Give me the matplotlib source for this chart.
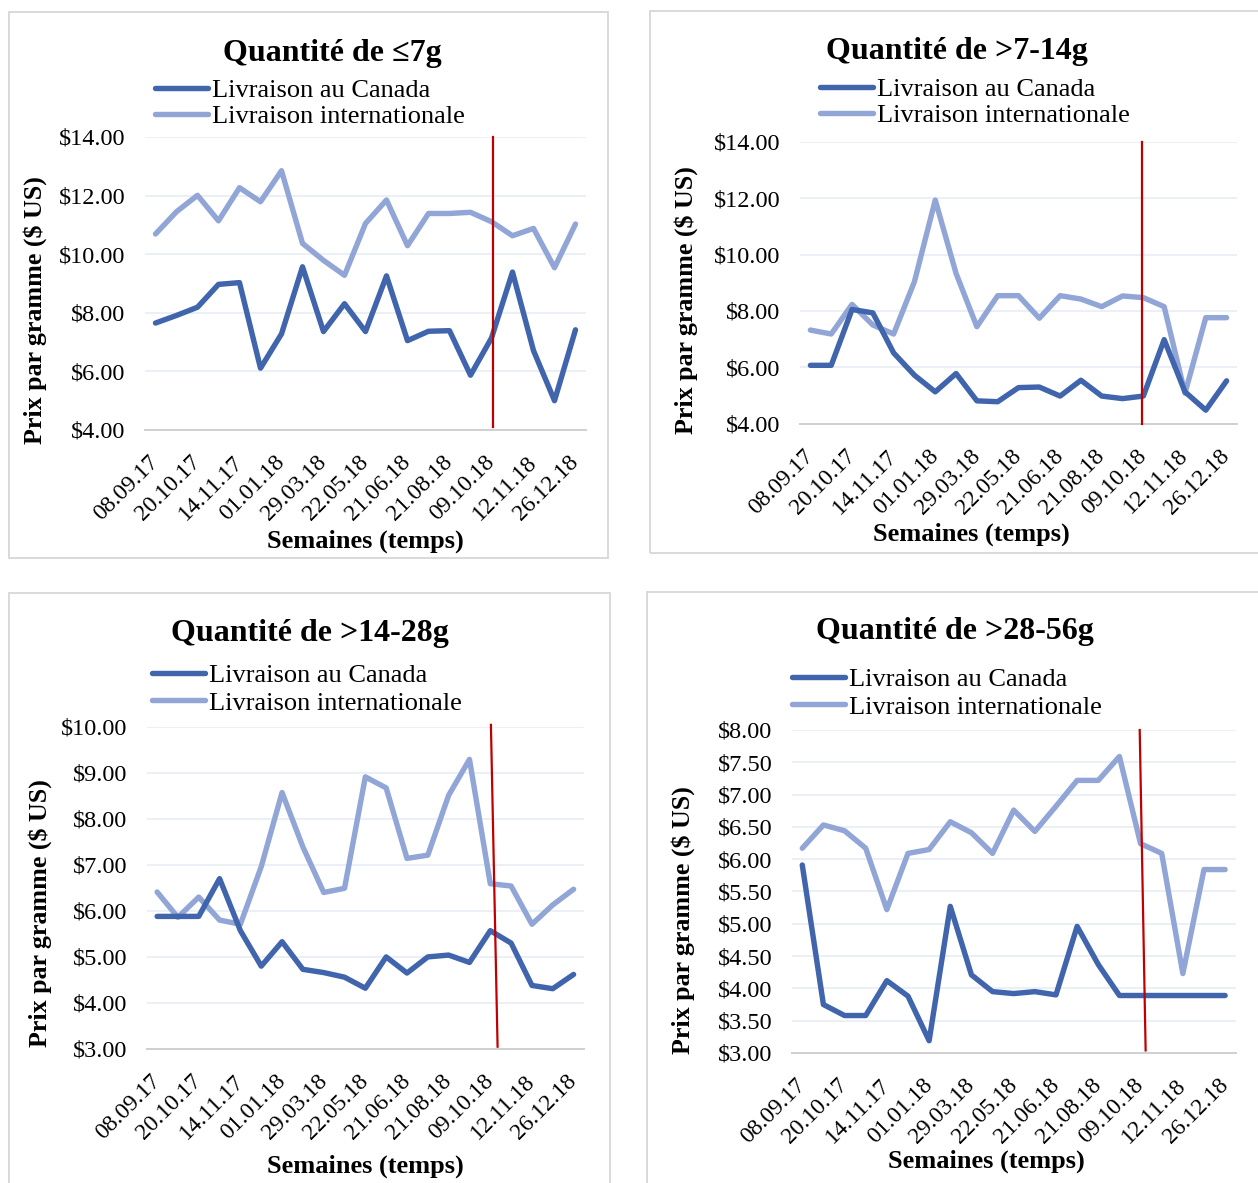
import matplotlib
matplotlib.use("Agg")
import matplotlib.pyplot as plt
from matplotlib.patches import Rectangle

plt.rcParams['font.family'] = ['Liberation Serif', 'DejaVu Serif']

# ---------------- data ----------------
n_weeks = 21
tick_labels = ["08.09.17", "20.10.17", "14.11.17", "01.01.18", "29.03.18", "22.05.18",
               "21.06.18", "21.08.18", "09.10.18", "12.11.18", "26.12.18"]

titles = ["Quantité de ≤7g", "Quantité de >7-14g", "Quantité de >14-28g", "Quantité de >28-56g"]
series_names = ["Livraison au Canada", "Livraison internationale"]

canada_7 = [7.65, 7.91, 8.19, 8.97, 9.03, 6.11, 7.28, 9.57, 7.36, 8.31, 7.36,
            9.26, 7.05, 7.37, 7.39, 5.87, 7.14, 9.39, 6.71, 5.00, 7.42]
intl_7 = [10.69, 11.45, 12.01, 11.14, 12.27, 11.79, 12.85, 10.37, 9.79, 9.28, 11.05,
          11.85, 10.29, 11.39, 11.39, 11.43, 11.11, 10.63, 10.88, 9.54, 11.03]

canada_14 = [6.07, 6.07, 8.05, 7.93, 6.51, 5.72, 5.13, 5.78, 4.81, 4.78, 5.28,
             5.30, 4.98, 5.54, 4.98, 4.89, 4.98, 6.98, 5.13, 4.48, 5.52]
intl_14 = [7.32, 7.18, 8.23, 7.50, 7.18, 9.04, 11.93, 9.33, 7.44, 8.54, 8.54,
           7.74, 8.54, 8.42, 8.15, 8.53, 8.47, 8.15, 5.08, 7.76, 7.76]

canada_28 = [5.88, 5.88, 5.88, 6.70, 5.57, 4.80, 5.33, 4.73, 4.66, 4.56, 4.32,
             5.00, 4.65, 5.00, 5.04, 4.88, 5.57, 5.30, 4.38, 4.31, 4.62]
intl_28 = [6.41, 5.86, 6.30, 5.80, 5.71, 6.96, 8.57, 7.39, 6.40, 6.49, 8.91,
           8.67, 7.14, 7.21, 8.51, 9.29, 6.59, 6.54, 5.71, 6.13, 6.47]

canada_56 = [5.91, 3.75, 3.58, 3.58, 4.12, 3.88, 3.19, 5.27, 4.21, 3.95, 3.92,
             3.95, 3.90, 4.96, 4.37, 3.89, 3.89, 3.89, 3.89, 3.89, 3.89]
intl_56 = [6.17, 6.53, 6.44, 6.17, 5.22, 6.09, 6.15, 6.58, 6.41, 6.09, 6.76,
           6.43, 6.82, 7.22, 7.22, 7.59, 6.24, 6.09, 4.23, 5.84, 5.84]

y_ranges = [(4, 14, 2), (4, 14, 2), (3, 10, 1), (3, 8, 0.5)]
# red marker line: (x_top, y_top, x_bottom, y_bottom) in data units
red_lines = [(16.05, 14.0, 16.05, 4.1), (15.95, 14.0, 15.95, 4.0),
             (16.03, 10.04, 16.35, 3.05), (15.96, 8.0, 16.24, 3.04)]

# ---------------- layout (pixels) ----------------
W, H = 1258, 1183
fig = plt.figure(figsize=(W / 100, H / 100), dpi=100)

def fx(px):
    return px / W

def fy(py):
    return 1 - py / H

axes_px = [(145, 137, 586, 430), (800, 141.7, 1237, 423.7),
           (146.7, 726.7, 584, 1049), (791.7, 730, 1235.7, 1053)]
borders_px = [(9, 12, 608, 558), (650, 11, 1262, 553),
              (9, 593, 610, 1190), (647, 592, 1262, 1190)]
title_px = [(332, 54), (957, 52), (310, 633), (955, 632)]
legend_px = [(155, 79), (820, 78), (152, 664), (792, 668)]
legend_spacing = [0.08, 0.08, 0.14, 0.14]
ylabel_px = [(35, 310), (686, 300), (40, 913), (683, 920)]
xlabel_px = [(365, 541), (971, 534), (365, 1166), (986, 1161)]

dark = '#4065AD'
light = '#91A6D6'
grid_c = '#E9EEF6'
canada_all = [canada_7, canada_14, canada_28, canada_56]
intl_all = [intl_7, intl_14, intl_28, intl_56]

for i in range(4):
    bx0, by0, bx1, by1 = borders_px[i]
    fig.patches.append(Rectangle((fx(bx0), fy(by1)), fx(bx1 - bx0), (by1 - by0) / H,
                                 transform=fig.transFigure, fill=False,
                                 edgecolor='#D9D9D9', linewidth=1.4, zorder=0))
    x0, y0, x1, y1 = axes_px[i]
    ax = fig.add_axes([fx(x0), fy(y1), fx(x1 - x0), (y1 - y0) / H])
    xs = list(range(n_weeks))
    l1, = ax.plot(xs, canada_all[i], color=dark, lw=3.9, solid_joinstyle='round',
                  solid_capstyle='round', label=series_names[0], zorder=3)
    l2, = ax.plot(xs, intl_all[i], color=light, lw=3.9, solid_joinstyle='round',
                  solid_capstyle='round', label=series_names[1], zorder=2)
    xt, yt, xb, yb = red_lines[i]
    ax.plot([xt, xb], [yt, yb], color='#C00000', lw=1.6, zorder=4, clip_on=False)

    lo, hi, step = y_ranges[i]
    ax.set_xlim(-0.5, n_weeks - 0.5)
    ax.set_ylim(lo, hi)
    nt = int(round((hi - lo) / step)) + 1
    yticks = [lo + k * step for k in range(nt)]
    ax.set_yticks(yticks)
    ax.set_yticklabels([f"${v:.2f}" for v in yticks], fontsize=17.5)
    ax.set_xticks(list(range(0, n_weeks, 2)))
    ax.set_xticklabels(tick_labels, fontsize=17, rotation=45, ha='right',
                       va='center', rotation_mode='anchor')
    ax.tick_params(axis='both', length=0)
    ax.tick_params(axis='y', pad=14)
    ax.tick_params(axis='x', pad=21)
    for s in ['top', 'right', 'left']:
        ax.spines[s].set_visible(False)
    ax.spines['bottom'].set_color('#D0D0D0')
    ax.spines['bottom'].set_linewidth(1.4)
    ax.grid(axis='y', color=grid_c, lw=1.3)
    ax.set_axisbelow(True)
    ax.set_facecolor('none')

    tx, ty = title_px[i]
    fig.text(fx(tx), fy(ty), titles[i], ha='center', va='center',
             fontsize=23, fontweight='bold')
    lx, ly = legend_px[i]
    fig.legend(handles=[l1, l2], loc='upper left', bbox_to_anchor=(fx(lx), fy(ly)),
               frameon=False, fontsize=19, handlelength=2.0, handletextpad=0.15,
               labelspacing=legend_spacing[i], borderpad=0, borderaxespad=0)
    yx, yy = ylabel_px[i]
    fig.text(fx(yx), fy(yy), "Prix par gramme ($ US)", rotation=90, ha='center',
             va='center', fontsize=18.7, fontweight='bold')
    xx, xy = xlabel_px[i]
    fig.text(fx(xx), fy(xy), "Semaines (temps)", ha='center', va='center',
             fontsize=19, fontweight='bold')

fig.savefig("out.png", dpi=100, facecolor='white')
